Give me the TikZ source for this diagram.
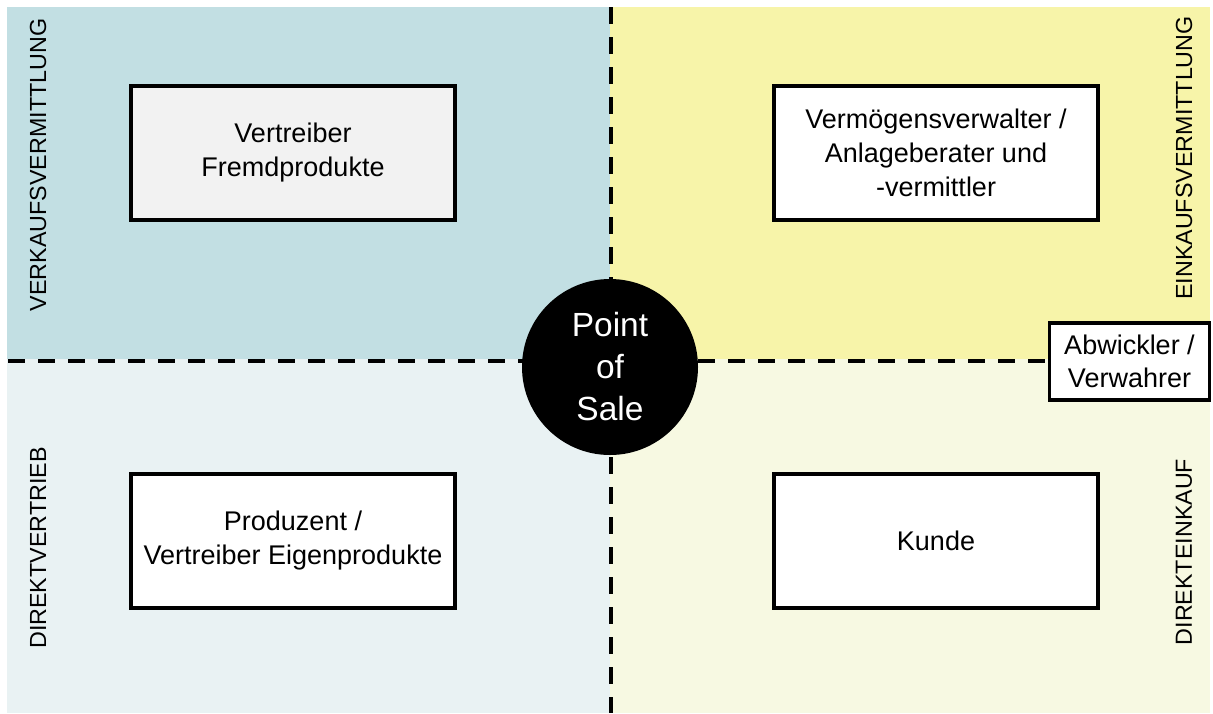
\documentclass[tikz,border=0pt]{standalone}
\usepackage{fontspec}
\setmainfont{Liberation Sans}
\usepackage{xcolor}
\usetikzlibrary{backgrounds}

\definecolor{vkblue}{HTML}{C2DFE3}
\definecolor{dvblue}{HTML}{E9F2F3}
\definecolor{ekyellow}{HTML}{F7F4A9}
\definecolor{dkyellow}{HTML}{F7F9E2}
\definecolor{boxgray}{HTML}{F2F2F2}

\begin{document}
\begin{tikzpicture}[x=1pt,y=-1pt,
    box/.style={draw, line width=3.5pt, fill=white, align=center,
      minimum width=324pt, minimum height=134pt,
      font=\fontsize{27}{34}\selectfont},
    sidelabel/.style={rotate=90, font=\fontsize{23.3}{26}\selectfont},
    divider/.style={line width=4pt, dash pattern=on 17pt off 13pt}]
             \useasboundingbox (0,0) rectangle (1213,713);

             % the four actors
             \node[box, fill=boxgray] (fremd) at (293,153) {Vertreiber\\Fremdprodukte};
             \node[box] (verwalter) at (936,153) {Verm\"ogensverwalter /\\Anlageberater und\\-vermittler};
             \node[box] (produzent) at (293,541) {Produzent /\\Vertreiber Eigenprodukte};
             \node[box] (kunde) at (936,541) {Kunde};
             \node[draw, line width=3.5pt, fill=white, align=center,
               minimum width=160pt, minimum height=77pt,
               font=\fontsize{27}{33}\selectfont] (abwickler) at (1129.5,361.5) {Abwickler /\\Verwahrer};

             \node[circle, fill=black, text=white, minimum size=176pt, inner sep=0pt,
               align=center, font=\fontsize{33.5}{42}\selectfont] (pos) at (610,367) {Point\\of\\Sale};

             % side labels
             \node[sidelabel] (verkauf) at (38,165) {VERKAUFSVERMITTLUNG};
             \node[sidelabel] (direktv) at (38,548) {DIREKTVERTRIEB};
             \node[sidelabel] (einkauf) at (1184,158) {EINKAUFSVERMITTLUNG};
             \node[sidelabel] (direkte) at (1184,552) {DIREKTEINKAUF};

             \coordinate (left) at (8,360.5);
             \coordinate (top) at (610.5,7);
             \coordinate (bottom) at (610.5,713);

             \begin{scope}[on background layer]
             \fill[vkblue] (7,7) rectangle (610,359);
             \fill[ekyellow] (610,7) rectangle (1210,359);
             \fill[dvblue] (7,359) rectangle (610,713);
             \fill[dkyellow] (610,359) rectangle (1210,713);
             \draw[divider] (left) -- (left -| abwickler.west);
             \draw[divider] (top) -- (bottom);
             \end{scope}
\end{tikzpicture}
\end{document}
